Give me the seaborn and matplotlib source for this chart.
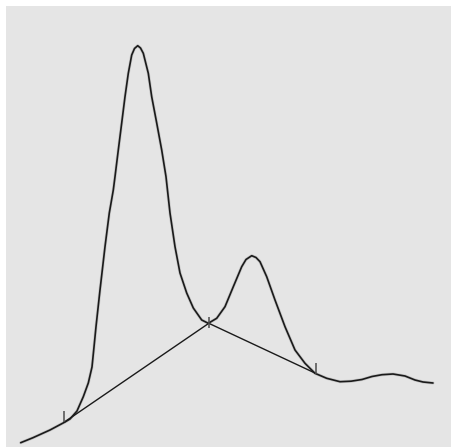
import matplotlib
matplotlib.use("Agg")
import matplotlib.pyplot as plt
import numpy as np
import pandas as pd
import seaborn as sns

# Chromatogram trace (time, detector signal)
time = [14.7, 27, 44, 59, 64, 71, 77.3, 82.3, 86, 88, 90, 94, 99, 103.3, 107.3, 109,
        112.3, 115.7, 119, 122.3, 125.7, 128.5, 131.7, 134.5, 137.3, 142.3, 145.7,
        150.7, 155.7, 160, 164, 169, 174, 180.7, 187.3, 195.7, 202.3, 210.7, 219,
        227.3, 235.7, 240, 245.7, 250, 254, 260.7, 269, 279, 289, 299, 309, 320.7,
        334, 345, 356, 366, 376, 387, 399, 409, 417, 427]
signal = [4.3, 9.3, 17, 25, 28, 36, 50.3, 64, 80, 100, 120.3, 157, 200.3, 234, 257,
          270.3, 297, 324, 350.3, 373.7, 392, 398.5, 401.3, 399, 393.7, 373.7, 350.3,
          324, 297, 270.3, 234, 200.3, 174, 154, 139, 127, 123.7, 128.7, 140.3,
          160.3, 180.3, 187.5, 191.3, 189.5, 185.3, 170.3, 147, 120.3, 97, 83.7,
          73.7, 68.7, 65.3, 65.8, 67.5, 70.5, 72.3, 73, 71, 67, 65, 64]

# Integration baseline (peak start, valley, peak end)
base_time = [58.5, 202.8, 310]
base_signal = [25, 123.7, 73.5]

# Integration event markers
tick_low = [25, 119.5, 73.5]
tick_high = [36, 130.5, 84]

sns.set_style("white")

fig = plt.figure(figsize=(4.52, 4.47), dpi=100)
ax = fig.add_axes([6 / 452, 0, 446 / 452, 441 / 447])
ax.set_facecolor("#e5e5e5")

trace = pd.DataFrame({"time": time, "signal": signal})
baseline = pd.DataFrame({"time": base_time, "signal": base_signal})

# soft halo under the trace
sns.lineplot(data=trace, x="time", y="signal", sort=False, estimator=None,
             color="#8c8c8c", linewidth=2.2, alpha=0.35, ax=ax)
sns.lineplot(data=trace, x="time", y="signal", sort=False, estimator=None,
             color="#1a1a1a", linewidth=1.2, ax=ax)
sns.lineplot(data=baseline, x="time", y="signal", sort=False, estimator=None,
             color="#1a1a1a", linewidth=1.0, ax=ax)
ax.vlines(base_time, tick_low, tick_high, colors="#4d4d4d", linewidth=1.1)

ax.set_xlim(0, 446)
ax.set_ylim(0, 441)
ax.set_xlabel("")
ax.set_ylabel("")
ax.set_xticks([])
ax.set_yticks([])
for s in ax.spines.values():
    s.set_visible(False)

fig.savefig("out.png", dpi=100, facecolor="white")
